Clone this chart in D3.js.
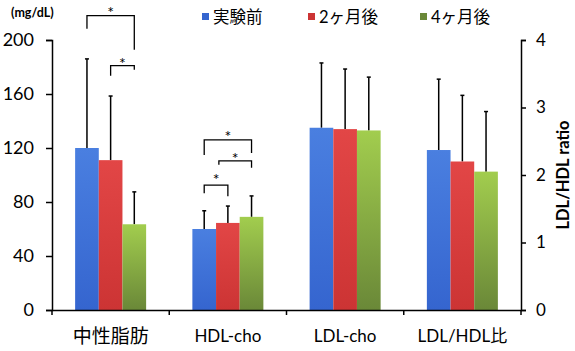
<!DOCTYPE html>
<html><head><meta charset="utf-8">
<script src="https://cdn.jsdelivr.net/npm/d3@7"></script>
<style>body{margin:0;background:#fff}svg{display:block}text{font-family:Lato,"Noto Sans CJK JP",sans-serif;fill:#000}</style>
</head><body><svg id="c" width="575" height="351"></svg>
<script>
const categories = ["中性脂肪", "HDL-cho", "LDL-cho", "LDL/HDL比"];
const seriesNames = ["実験前", "2ヶ月後", "4ヶ月後"];
// values: first three categories on left axis (mg/dL), last on right axis (ratio)
const before  = [120, 60, 135, 2.37];
const month2  = [111, 64.5, 134, 2.2];
const month4  = [63.5, 69, 133, 2.05];
const errBefore = [186, 73.5, 183, 3.42];
const errMonth2 = [158.5, 77, 178.5, 3.18];
const errMonth4 = [87.5, 84.5, 172.5, 2.94];
const leftTicks = [0, 40, 80, 120, 160, 200];
const rightTicks = [0, 1, 2, 3, 4];
// significance brackets: category index, from series, to series, level (value)
const brackets = [
  {cat:0, a:0, b:2, level:218, dropA:13, dropB:34, off:[0,0], dy:2},
  {cat:0, a:1, b:2, level:181, dropA:10, dropB:4, off:[0,0], dy:3},
  {cat:1, a:0, b:2, level:126, dropA:15, dropB:13, off:[0,0], dy:2},
  {cat:1, a:1, b:2, level:110.5, dropA:4, dropB:7, off:[-9,0], dy:3},
  {cat:1, a:0, b:1, level:92.5, dropA:8, dropB:11, off:[0,0], dy:0}
];

const svg = d3.select("#c");
const m = {l:52, r:54, t:40, b:41};
const W = 575, H = 351;
const x = d3.scaleBand().domain(categories).range([m.l, W - m.r]);
const xs = d3.scaleBand().domain(seriesNames).range([0, 71]);
const yL = d3.scaleLinear().domain([0, 200]).range([H - m.b, m.t]);
const yR = d3.scaleLinear().domain([0, 4]).range([H - m.b, m.t]);
const colors = [["#4a7fe0","#3565cf"],["#e24646","#cc3434"],["#a2cd4e","#6a8838"]];

const defs = svg.append("defs");
colors.forEach((c,i)=>{
  const g = defs.append("linearGradient").attr("id","g"+i).attr("x1",0).attr("y1",0).attr("x2",0).attr("y2",1);
  g.append("stop").attr("offset","0%").attr("stop-color",c[0]);
  g.append("stop").attr("offset","100%").attr("stop-color",c[1]);
});

const vals = [before, month2, month4];
const errs = [errBefore, errMonth2, errMonth4];
const yFor = ci => ci === 3 ? yR : yL;
const bx = (ci, si) => x(categories[ci]) + (x.bandwidth() - 71)/2 + xs(seriesNames[si]);

// error bars
for (let s=0; s<3; s++) categories.forEach((c,ci)=>{
  const y = yFor(ci);
  const cx = bx(ci,s) + xs.bandwidth()/2;
  svg.append("line").attr("x1",cx).attr("x2",cx).attr("y1",y(vals[s][ci])).attr("y2",y(errs[s][ci])).attr("stroke","#000").attr("stroke-width",1.5);
  svg.append("line").attr("x1",cx-2).attr("x2",cx+2).attr("y1",y(errs[s][ci])).attr("y2",y(errs[s][ci])).attr("stroke","#000").attr("stroke-width",1.5);
});
// bars
for (let s=0; s<3; s++) svg.append("g").selectAll("rect").data(categories).join("rect")
  .attr("x",(c,ci)=>bx(ci,s)).attr("width",xs.bandwidth())
  .attr("y",(c,ci)=>yFor(ci)(vals[s][ci]))
  .attr("height",(c,ci)=>yFor(ci)(0)-yFor(ci)(vals[s][ci]))
  .attr("fill","url(#g"+s+")");

// axes
const ax = svg.append("g").attr("transform",`translate(${m.l},0)`).call(d3.axisLeft(yL).tickValues(leftTicks).tickSize(6).tickPadding(12));
const ar = svg.append("g").attr("transform",`translate(${W-m.r},0)`).call(d3.axisRight(yR).tickValues(rightTicks).tickFormat(d3.format("d")).tickSize(5).tickPadding(10));
const ab = svg.append("g").attr("transform",`translate(0,${H-m.b})`).call(d3.axisBottom(x).tickSize(0).tickPadding(20));
[ax,ar,ab].forEach(a=>{a.select(".domain").attr("stroke","#000").attr("stroke-width",1.5);a.selectAll(".tick line").attr("stroke","#000").attr("stroke-width",1.5);a.selectAll("text").attr("font-family",'Lato,"Noto Sans CJK JP",sans-serif');});
ax.selectAll("text").attr("font-size","18px");
ar.selectAll("text").attr("font-size","17px");
ab.selectAll("text").attr("font-size",(d,i)=>i===0?"19px":"17px");
// category separators
const seps = categories.map(c=>x(c)).concat([W-m.r]);
svg.append("g").selectAll("line").data(seps).join("line")
  .attr("x1",d=>d).attr("x2",d=>d).attr("y1",H-m.b).attr("y2",H-m.b+5).attr("stroke","#000").attr("stroke-width",1.5);

// unit and right title
svg.append("text").attr("x",11).attr("y",17).attr("font-size","12.5px").attr("font-weight","bold").text("(mg/dL)");
svg.append("text").attr("transform",`translate(569,${(m.t+H-m.b)/2}) rotate(-90)`).attr("text-anchor","middle")
  .attr("font-size","16.5px").attr("font-weight","bold").text("LDL/HDL ratio");

// legend
const lx = [202, 308, 420];
seriesNames.forEach((n,i)=>{
  svg.append("rect").attr("x",lx[i]).attr("y",13).attr("width",7).attr("height",7).attr("fill",colors[i][1]);
  svg.append("text").attr("x",lx[i]+11).attr("y",22.5).attr("font-size","16.5px").text(n);
});

// significance brackets
brackets.forEach(b=>{
  const xa = bx(b.cat,b.a)+xs.bandwidth()/2 + b.off[0];
  const xb = bx(b.cat,b.b)+xs.bandwidth()/2 + b.off[1];
  const yy = yL(b.level);
  svg.append("path").attr("d",`M${xa},${yy+b.dropA}V${yy}H${xb}V${yy+b.dropB}`).attr("fill","none").attr("stroke","#000").attr("stroke-width",1.3);
  svg.append("text").attr("x",(xa+xb)/2).attr("y",yy+b.dy).attr("text-anchor","middle")
    .attr("font-family","DejaVu Sans").attr("font-size","16px").text("*");
});
</script></body></html>
